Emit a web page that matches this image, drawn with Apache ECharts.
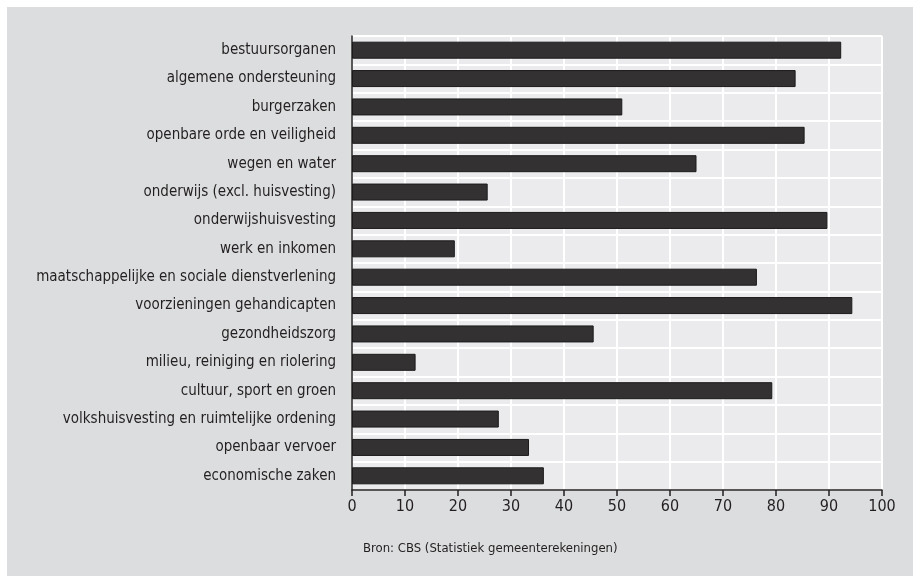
<!DOCTYPE html>
<html>
<head>
<meta charset="utf-8">
<style>html,body{margin:0;padding:0;background:#fff;}#c{width:920px;height:583px;}</style>
<script src="https://cdn.jsdelivr.net/npm/echarts@6/dist/echarts.min.js"></script>
</head>
<body>
<div id="c"></div>
<script>
const categories = [
  "bestuursorganen",
  "algemene ondersteuning",
  "burgerzaken",
  "openbare orde en veiligheid",
  "wegen en water",
  "onderwijs (excl. huisvesting)",
  "onderwijshuisvesting",
  "werk en inkomen",
  "maatschappelijke en sociale dienstverlening",
  "voorzieningen gehandicapten",
  "gezondheidszorg",
  "milieu, reiniging en riolering",
  "cultuur, sport en groen",
  "volkshuisvesting en ruimtelijke ordening",
  "openbaar vervoer",
  "economische zaken"
];
const values = [92.3, 83.7, 51.0, 85.4, 65.0, 25.6, 89.7, 19.4, 76.4, 94.4, 45.6, 12.0, 79.3, 27.7, 33.4, 36.2];
const sourceText = "Bron: CBS (Statistiek gemeenterekeningen)";

const FONT = "'Liberation Sans Narrow', 'DejaVu Sans Condensed', 'Liberation Sans', sans-serif";
const TXT = '#231f20';
const chart = echarts.init(document.getElementById('c'), null, {renderer: 'canvas'});
chart.setOption({
  animation: false,
  backgroundColor: '#ffffff',
  graphic: [
    {type: 'rect', z: -10, shape: {x: 7, y: 7, width: 906, height: 569}, style: {fill: '#dcdddf'}},
    {type: 'text', left: 363, top: 542, style: {text: sourceText, font: '13px ' + FONT, fill: TXT}}
  ],
  grid: {left: 352, right: 38, top: 36, bottom: 93, show: true, backgroundColor: '#ebebed', borderWidth: 0},
  xAxis: {
    type: 'value', min: 0, max: 100, interval: 10,
    axisLine: {show: true, lineStyle: {color: TXT, width: 1.5}},
    axisTick: {show: true, length: 6, lineStyle: {color: TXT, width: 1.5}},
    splitLine: {show: true, lineStyle: {color: '#ffffff', width: 2}},
    axisLabel: {fontSize: 16, color: TXT, fontFamily: FONT, margin: 9}
  },
  yAxis: {
    type: 'category', inverse: true, data: categories,
    axisLine: {show: true, lineStyle: {color: TXT, width: 1.5}},
    axisTick: {show: false},
    splitLine: {show: true, lineStyle: {color: '#ffffff', width: 2}},
    axisLabel: {fontSize: 15, color: TXT, fontFamily: FONT, margin: 16}
  },
  series: [{
    type: 'bar', data: values, barWidth: '60%',
    itemStyle: {color: '#333132', borderColor: '#1c1a1b', borderWidth: 1}
  }]
});
</script>
</body>
</html>
